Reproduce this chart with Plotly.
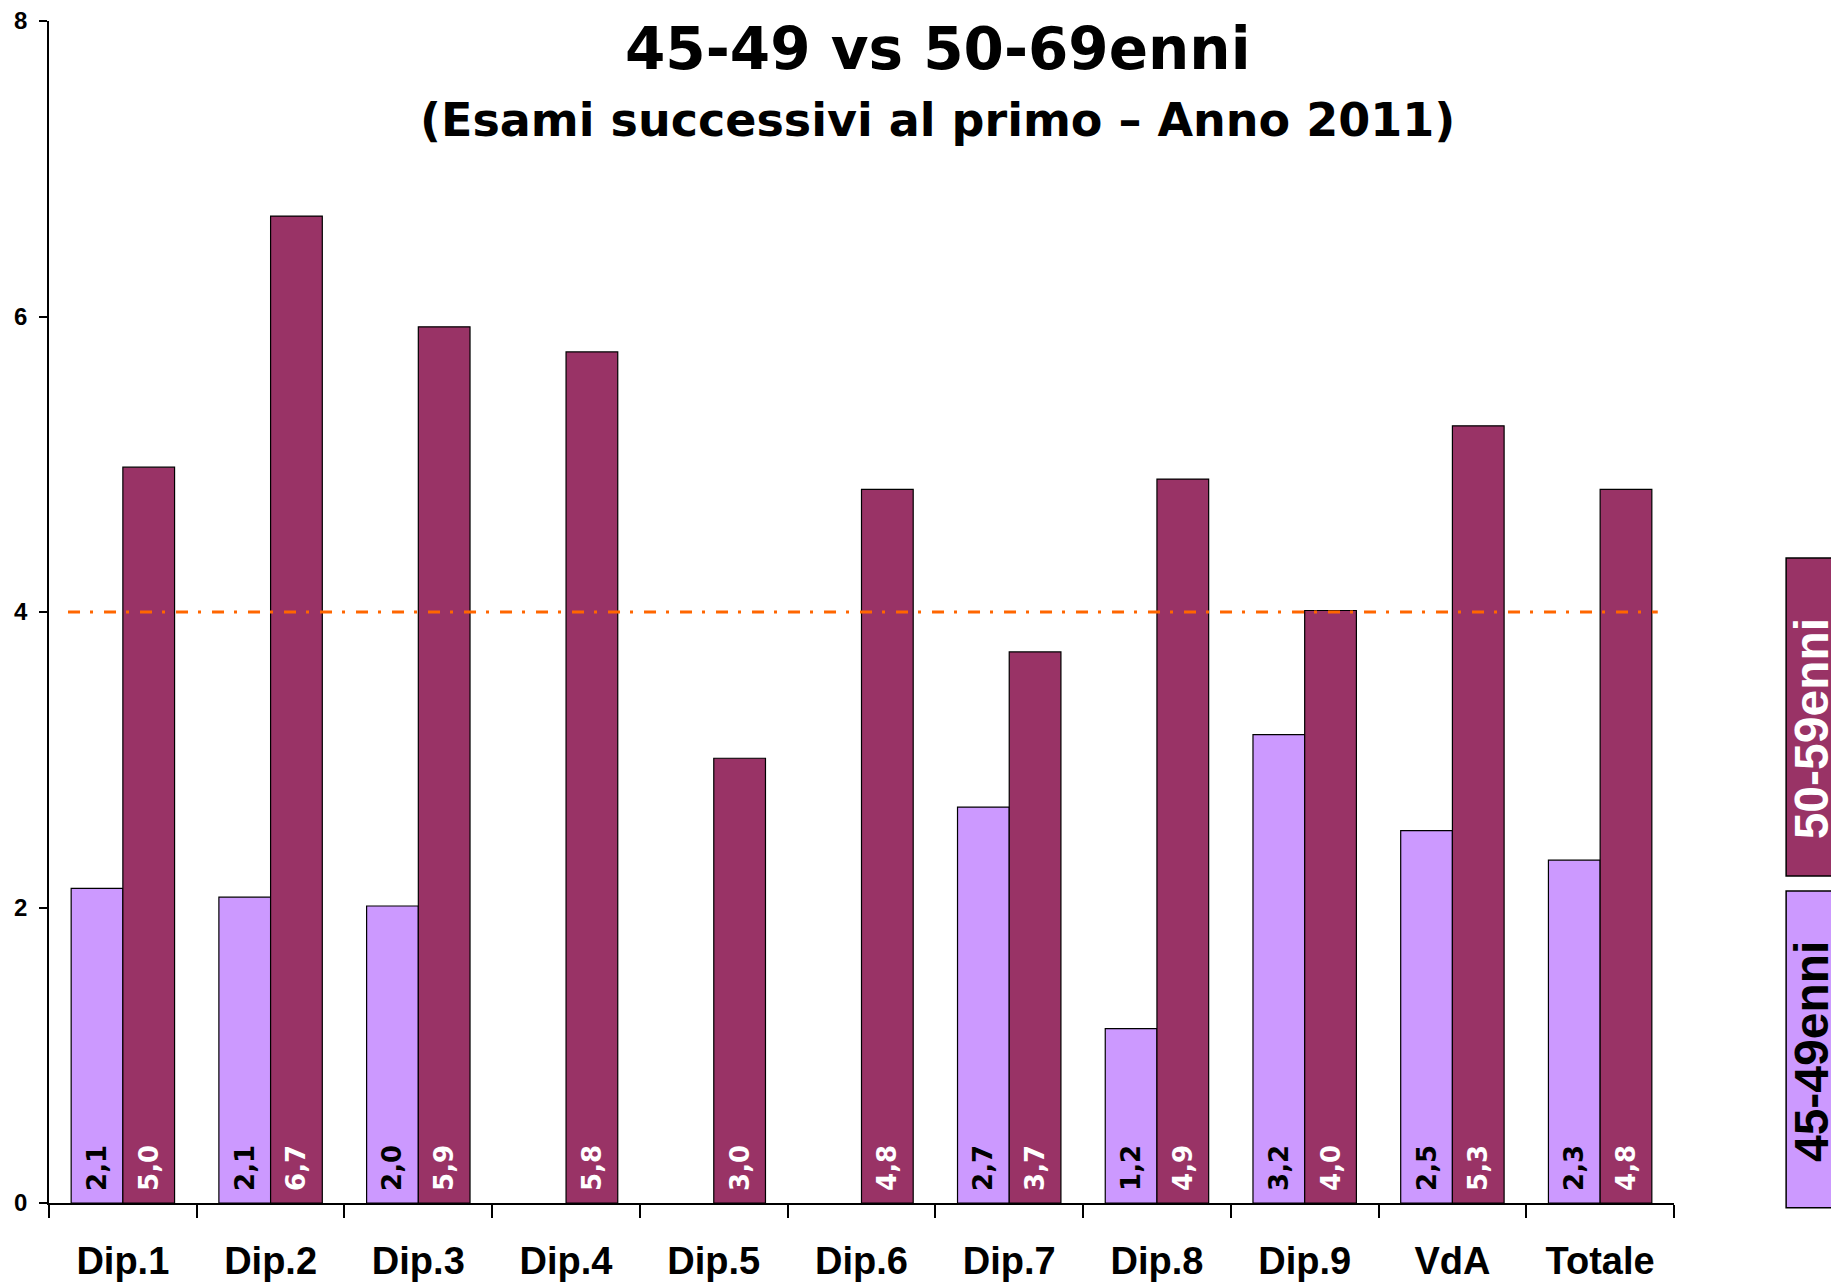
import plotly.graph_objects as go

# categories and values
categories = ['Dip.1', 'Dip.2', 'Dip.3', 'Dip.4', 'Dip.5', 'Dip.6',
              'Dip.7', 'Dip.8', 'Dip.9', 'VdA', 'Totale']
eta_45_49 = [2.13, 2.07, 2.01, None, None, None, 2.68, 1.18, 3.17, 2.52, 2.32]
eta_50_59 = [4.98, 6.68, 5.93, 5.76, 3.01, 4.83, 3.73, 4.90, 4.01, 5.26, 4.83]
labels_45_49 = ['2,1', '2,1', '2,0', '', '', '', '2,7', '1,2', '3,2', '2,5', '2,3']
labels_50_59 = ['5,0', '6,7', '5,9', '5,8', '3,0', '4,8', '3,7', '4,9', '4,0', '5,3', '4,8']
soglia = 4
y_ticks = [0, 2, 4, 6, 8]

light = '#CC99FF'
dark = '#993366'
axis_font = 'Liberation Sans, Arial, sans-serif'
label_font = 'DejaVu Sans, sans-serif'
title_font = 'Comic Sans MS, DejaVu Sans, sans-serif'

fig = go.Figure()
fig.add_trace(go.Bar(
    x=categories, y=eta_45_49, name='45-49enni',
    marker=dict(color=light, line=dict(color='black', width=1.2)),
    text=labels_45_49, texttemplate=' %{text}', textposition='inside',
    insidetextanchor='start', textangle=-90, constraintext='none',
    textfont=dict(family=label_font, size=26, color='black', weight='bold'),
))
fig.add_trace(go.Bar(
    x=categories, y=eta_50_59, name='50-59enni',
    marker=dict(color=dark, line=dict(color='black', width=1.2)),
    text=labels_50_59, texttemplate=' %{text}', textposition='inside',
    insidetextanchor='start', textangle=-90, constraintext='none',
    textfont=dict(family=label_font, size=26, color='white', weight='bold'),
))

# reference line at 4
fig.add_shape(type='line', xref='paper', yref='y', x0=0.0117, x1=0.990, y0=soglia, y1=soglia,
              line=dict(color='#FF6600', width=3, dash='12px,10px,3px,11px'), layer='above')

# titles
fig.add_annotation(text='45-49 vs 50-69enni', xref='paper', yref='paper',
                   x=0.547, y=0.976, xanchor='center', yanchor='middle', showarrow=False,
                   font=dict(family=title_font, size=58, color='black', weight='bold'))
fig.add_annotation(text='(Esami successivi al primo \u2013 Anno 2011)', xref='paper', yref='paper',
                   x=0.547, y=0.916, xanchor='center', yanchor='middle', showarrow=False,
                   font=dict(family=title_font, size=46, color='black', weight='bold'))

# hand-made legend boxes on the right
fig.add_shape(type='rect', xref='paper', yref='paper', x0=1.069, x1=1.12, y0=0.2766, y1=0.5457,
              fillcolor=dark, line=dict(color='black', width=1.5))
fig.add_shape(type='rect', xref='paper', yref='paper', x0=1.069, x1=1.12, y0=-0.004, y1=0.264,
              fillcolor=light, line=dict(color='black', width=1.5))
fig.add_annotation(text='50-59enni', xref='paper', yref='paper', x=1.0845, y=0.401,
                   xanchor='center', yanchor='middle', textangle=-90, showarrow=False,
                   font=dict(family=axis_font, size=48, color='white', weight='bold'))
fig.add_annotation(text='45-49enni', xref='paper', yref='paper', x=1.0845, y=0.128,
                   xanchor='center', yanchor='middle', textangle=-90, showarrow=False,
                   font=dict(family=axis_font, size=48, color='black', weight='bold'))

# the page body adds 8px, so the figure is 8px smaller and margins shifted
fig.update_layout(
    width=1831, height=1279,
    margin=dict(l=41, r=165, t=13, b=84),
    plot_bgcolor='white', paper_bgcolor='white',
    barmode='group', bargap=0.3, bargroupgap=0,
    showlegend=False,
    xaxis=dict(showline=True, linecolor='black', linewidth=1.5, ticks='outside',
               tickson='boundaries', ticklen=13, tickcolor='black', tickwidth=1.5,
               ticklabelstandoff=24, automargin=False,
               tickfont=dict(family=axis_font, size=38, color='black', weight='bold'),
               showgrid=False),
    yaxis=dict(range=[0, 8], tickvals=y_ticks, showline=True, linecolor='black', linewidth=1.5,
               ticks='outside', ticklen=8, tickcolor='black', tickwidth=1.5,
               ticklabelstandoff=7, automargin=False, ticklabeloverflow='allow',
               tickfont=dict(family=axis_font, size=24, color='black', weight='bold'),
               showgrid=False, zeroline=False),
)

fig.write_html('out.html')
